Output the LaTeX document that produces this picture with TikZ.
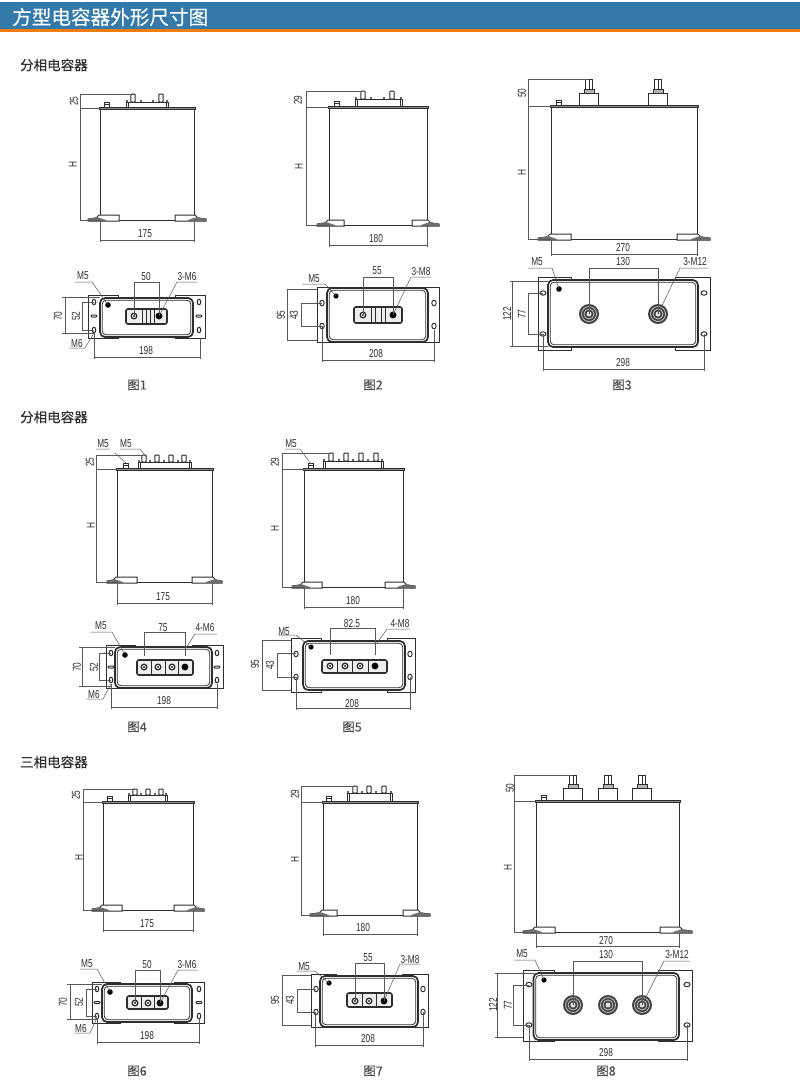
\documentclass[tikz,border=0pt]{standalone}
\usepackage{fontspec}
\newfontfamily\cjkfont[FakeBold=0.25]{Noto Sans CJK SC}
\newfontfamily\dimfont{Liberation Sans}
\definecolor{headblue}{HTML}{337AAB}
\definecolor{headorange}{HTML}{F07D14}
\definecolor{ink}{HTML}{2E2E2E}
\tikzset{x=1pt, y=-1pt,
shell/.style={draw=ink, line width=1pt}, % outlines of the capacitor
tank/.style={draw=ink, line width=1.7pt, fill=white, rounded corners=5pt},
dimline/.style={draw=ink!80, line width=.5pt}, % dimension lines and leaders
dimlabel/.style={font=\dimfont\fontsize{11.5}{11.5}\selectfont, text=ink, inner sep=0pt},
capt/.style={font=\cjkfont\fontsize{12.5}{13}\selectfont, text=ink!85, inner sep=0pt},
section/.style={font=\cjkfont\fontsize{13.5}{14}\selectfont, text=ink, inner sep=0pt, anchor=west}}
% labels: name, x, y, text
\newcommand{\nm}[4]{\node[dimlabel] (#1) at (#2,#3) {\scalebox{.72}[1]{#4}};}
\newcommand{\nmv}[4]{\node[dimlabel, rotate=90] (#1) at (#2,#3) {\scalebox{.72}[1]{#4}};}
% side view: left, right, top, bottom, foot outside, foot inside
\newcommand{\frontview}[6]{
\draw[shell, fill=white] (#1,#3) rectangle (#2,#4);
\draw[shell, fill=ink!55] (#1-1,#3-1) rectangle (#2+1,#3+1);
\draw[shell, fill=white] (#1-#5,#4+1) -- (#1-#5,#4-1) -- (#1-4,#4-2) -- (#1-1,#4-5) -- (#1+#6,#4-5) -- (#1+#6,#4+1) -- cycle;
\draw[shell, fill=white] (#2+#5,#4+1) -- (#2+#5,#4-1) -- (#2+4,#4-2) -- (#2+1,#4-5) -- (#2-#6,#4-5) -- (#2-#6,#4+1) -- cycle;
\fill[ink!70] (#1-#5,#4+1) -- (#1-#5,#4-1) -- (#1-3,#4-3) -- (#1+6,#4) -- (#1+6,#4+1) -- cycle;
\fill[ink!70] (#2+#5,#4+1) -- (#2+#5,#4-1) -- (#2+3,#4-3) -- (#2-6,#4) -- (#2-6,#4+1) -- cycle;
}
% earth stud on the lid: x, top
\newcommand{\lidstud}[2]{
\draw[shell, fill=white] (#1-2.5,#2-6) rectangle (#1+2.5,#2-1);
\draw[shell, line width=.5pt] (#1-2.5,#2-4) -- (#1+2.5,#2-4);
}
% small terminals: left, right, top, plate height, posts, pins, post top
\newcommand{\smallterm}[7]{
\draw[shell] (#1+2,#3-#4) -- (#2-2,#3-#4);
\draw[shell, fill=white] (#1,#3-#4) rectangle (#1+2,#3-1);
\draw[shell, fill=white] (#2-2,#3-#4) rectangle (#2,#3-1);
\foreach \px in {#5} {\draw[shell, fill=white, rounded corners=.8pt] (\px-2.2,#3-#4) rectangle (\px+2.2,#7);}
\foreach \px in {#6} {\fill[ink] (\px,#3-#4-1) circle (1.2);}
\fill[ink] (#1+1,#3-#4-1) circle (1.2); \fill[ink] (#2-1,#3-#4-1) circle (1.2);
}
% big terminal: x, top, bolt top
\newcommand{\bigterm}[3]{
\draw[shell, fill=white] (#1-9.5,#2-1) rectangle (#1+9.5,#2-13);
\draw[shell, fill=ink!35] (#1-5,#2-13) rectangle (#1+5,#2-17);
\draw[shell, fill=white] (#1-3.5,#2-17) rectangle (#1+3.5,#3);
\draw[shell, line width=.7pt] (#1,#2-17) -- (#1,#3);
}
% plan: bracket left right top bottom, tank left right top bottom, tab length
\newcommand{\planview}[9]{
\draw[shell, fill=white] (#1,#3) rectangle (#5+#9,#4);
\draw[shell, fill=white] (#2,#3) rectangle (#6-#9,#4);
\draw[tank] (#5,#7) rectangle (#6,#8);
\draw[shell, line width=.8pt, rounded corners=4pt] (#5+2.2,#7+2.2) rectangle (#6-2.2,#8-2.2);
}
% mounting holes: x left, x right, y top, y bottom, radius x, radius y
\newcommand{\holes}[6]{
\foreach \hx in {#1,#2} \foreach \hy in {#3,#4} {\draw[shell, fill=white] (\hx,\hy) ellipse (#5 and #6);}
}
% slots between the holes: x left, x right, y
\newcommand{\slots}[3]{
\foreach \hx in {#1,#2} {\draw[shell, fill=white, rounded corners=1pt] (\hx-3,#3-1) rectangle (\hx+3,#3+1);}
}
% terminal block: left, right, top, bottom, bolts, dividers, y, black bolt
\newcommand{\blockview}[8]{
\draw[shell, line width=1.6pt, fill=ink!8, rounded corners=2pt] (#1,#3) rectangle (#2,#4);
\foreach \dx in {#6} {\draw[shell] (\dx,#3) -- (\dx,#4);}
\foreach \bx in {#5} {\draw[shell, line width=1.3pt, fill=white] (\bx,#7) circle (2.8);\fill[ink] (\bx,#7) circle (1.1);}
\fill[black] (#8,#7) circle (3);
}
\newcommand{\bigbolt}[2]{
\fill[ink!90] (#1,#2) circle (10);
\draw[white!75!ink, line width=.7pt] (#1,#2) circle (7.5);
\draw[white!75!ink, line width=.7pt] (#1,#2) circle (5);
\fill[white!85!ink] (#1,#2) circle (2.5);
}
\begin{document}
\begin{tikzpicture}
\useasboundingbox (0,0) rectangle (800,1085);
% header
\fill[headblue] (0,2) rectangle (800,29);
\fill[headorange] (0,29) rectangle (800,32);
\node[font=\cjkfont\fontsize{19.6}{20}\selectfont, text=white, inner sep=0pt, anchor=west] (title) at (12,17) {方型电容器外形尺寸图};
\node[section] (secA) at (20,65) {分相电容器};
\node[section] (secB) at (20,417) {分相电容器};
\node[section] (secC) at (20,762) {三相电容器};

% figure 1
\frontview{100}{194}{108}{220}{12}{19}
\lidstud{107}{108}
\smallterm{126}{168}{108}{6}{133,161}{141,153}{94}
\draw[dimline] (134,94) -- (80,94) -- (80,220) -- (100,220) (80,108) -- (100,108);
\draw[dimline] (100,221) -- (100,242) (194,221) -- (194,242) (100,240) -- (194,240);
\nmv{aH}{73}{165}{H} \nmv{aTop}{74}{101}{25} \nm{aW}{145}{234}{175}
\planview{88}{205}{295}{338}{100}{193}{298}{337}{18}
\holes{94}{199}{302}{330}{1.8}{2.8}
\slots{94}{199}{316}
\blockview{126}{167}{309}{324}{134,159}{142,146,150,154}{316}{159}
\fill[black] (108,305) circle (2.8);
\draw[dimline] (134,316) -- (134,282) -- (159,282) -- (159,316);
\draw[dimline] (177,282) -- (197,282) (177,282) -- (159,316);
\draw[dimline] (75,282) -- (92,282) -- (108,305);
\draw[dimline] (69,348) -- (85,348) -- (94,333);
\draw[dimline] (65,297) -- (65,333) (62,297) -- (100,297) (62,333) -- (94,333);
\draw[dimline] (94,302) -- (82,302) -- (82,330) -- (94,330);
\draw[dimline] (94,333) -- (94,359) (200,338) -- (200,359) (94,357) -- (200,357);
\nm{aM}{83}{276}{M5} \nm{aS}{146}{277}{50} \nm{aT}{187}{277}{3-M6} \nm{aB}{77}{344}{M6}
\nmv{aH2}{58}{316}{70} \nmv{aH3}{76}{316}{52} \nm{aW2}{146}{351}{198}
\node[capt] (capA) at (137,385) {图1};

% figure 2
\frontview{329}{427}{107}{225}{12}{15}
\lidstud{337}{107}
\smallterm{355}{402}{107}{8}{363,392}{371,384}{91}
\draw[dimline] (363,91) -- (306,91) -- (306,225) -- (329,225) (306,107) -- (329,107);
\draw[dimline] (329,226) -- (329,247) (427,226) -- (427,247) (329,245) -- (427,245);
\nmv{bH}{299}{167}{H} \nmv{bTop}{298}{100}{29} \nm{bW}{376}{239}{180}
\planview{317}{439}{287}{342}{327}{428}{288}{342}{18}
\holes{322}{434}{303}{326}{2.2}{2.8}
\blockview{354}{402}{307}{323}{363,393}{371,375,381,385}{315}{393}
\fill[black] (336,296) circle (2.6);
\draw[dimline] (363,315) -- (363,277) -- (393,277) -- (393,315);
\draw[dimline] (411,277) -- (431,277) (411,277) -- (393,315);
\draw[dimline] (302,284) -- (325,284) -- (336,296);
\draw[dimline] (317,289) -- (287,289) -- (287,340) -- (317,340);
\draw[dimline] (322,303) -- (301,303) -- (301,326) -- (322,326);
\draw[dimline] (322,326) -- (322,362) (434,330) -- (434,362) (322,360) -- (434,360);
\nm{bM}{314}{279}{M5} \nm{bS}{377}{271}{55} \nm{bT}{421}{272}{3-M8}
\nmv{bH2}{281}{315}{95} \nmv{bH3}{294}{315}{43} \nm{bW2}{376}{354}{208}
\node[capt] (capB) at (373,385) {图2};

% figure 3
\frontview{551}{697}{106}{239}{13}{20}
\lidstud{559}{106}
\bigterm{589}{106}{79}
\bigterm{658}{106}{79}
\draw[dimline] (589,79) -- (528,79) -- (528,239) -- (551,239) (528,106) -- (551,106);
\draw[dimline] (551,240) -- (551,256) (697,240) -- (697,256) (551,254) -- (697,254);
\nmv{cH}{522}{173}{H} \nmv{cTop}{522}{93}{50} \nm{cW}{623}{248}{270}
\planview{538}{710}{277}{350}{548}{698}{280}{347}{23}
\holes{543}{704}{293}{334}{3}{2.2}
\bigbolt{589}{314}
\bigbolt{658}{314}
\fill[black] (559,289) circle (2.8);
\draw[dimline] (589,314) -- (589,268) -- (658,268) -- (658,314);
\draw[dimline] (680,268) -- (708,268) (680,268) -- (658,314);
\draw[dimline] (528,268) -- (552,268) -- (559,289);
\draw[dimline] (512,281) -- (512,346) (510,281) -- (548,281) (510,346) -- (548,346);
\draw[dimline] (543,293) -- (528,293) -- (528,334) -- (543,334);
\draw[dimline] (543,334) -- (543,371) (704,334) -- (704,371) (543,369) -- (704,369);
\nm{cM}{537}{262}{M5} \nm{cS}{623}{262}{130} \nm{cT}{695}{262}{3-M12}
\nmv{cH2}{507}{314}{122} \nmv{cH3}{522}{314}{77} \nm{cW2}{623}{363}{298}
\node[capt] (capC) at (622,385) {图3};

% figure 4
\frontview{117}{212}{469}{582}{10}{20}
\lidstud{126}{469}
\smallterm{138}{191}{469}{7}{157,171,184,144}{150,164,178}{455}
\draw[dimline] (143,455) -- (96,455) -- (96,582) -- (117,582) (96,469) -- (117,469);
\draw[dimline] (117,583) -- (117,605) (212,583) -- (212,605) (117,603) -- (212,603);
\draw[dimline] (96,449) -- (110,449) (115,453) -- (126,463);
\draw[dimline] (120,449) -- (140,449) -- (147,458);
\nmv{dH}{91}{526}{H} \nmv{dTop}{90}{462}{25} \nm{dW}{163}{597}{175}
\nm{dMa}{103}{444}{M5} \nm{dMb}{126}{444}{M5}
\planview{106}{223}{645}{688}{115}{212}{647}{688}{20}
\holes{111}{217}{653}{680}{1.8}{2.8}
\slots{111}{217}{667}
\blockview{137}{193}{660}{675}{144,158,172,185}{151,165,178}{667}{185}
\fill[black] (125,655) circle (2.8);
\draw[dimline] (144,656) -- (144,632) -- (185,632) -- (185,656);
\draw[dimline] (195,634) -- (217,634) (195,634) -- (186,648);
\draw[dimline] (90,632) -- (112,632) -- (125,655);
\draw[dimline] (86,699) -- (103,699) -- (111,684);
\draw[dimline] (82,647) -- (82,686) (79,647) -- (115,647) (79,686) -- (111,686);
\draw[dimline] (111,653) -- (99,653) -- (99,680) -- (111,680);
\draw[dimline] (111,684) -- (111,709) (217,684) -- (217,709) (111,707) -- (217,707);
\nm{dM}{101}{626}{M5} \nm{dS}{163}{628}{75} \nm{dT}{205}{628}{4-M6} \nm{dB}{94}{695}{M6}
\nmv{dH2}{77}{667}{70} \nmv{dH3}{94}{667}{52} \nm{dW2}{164}{701}{198}
\node[capt] (capD) at (137,727) {图4};

% figure 5
\frontview{304}{403}{469}{587}{12}{18}
\lidstud{311}{469}
\smallterm{323}{383}{469}{8}{331,346,361,376}{339,353,368}{453}
\draw[dimline] (331,453) -- (282,453) -- (282,587) -- (304,587) (282,469) -- (304,469);
\draw[dimline] (304,588) -- (304,609) (403,588) -- (403,609) (304,607) -- (403,607);
\draw[dimline] (285,449) -- (300,449) -- (311,464);
\nmv{eH}{275}{529}{H} \nmv{eTop}{275}{462}{29} \nm{eW}{353}{601}{180}
\nm{eMa}{291}{444}{M5}
\planview{291}{415}{638}{692}{303}{405}{641}{690}{18}
\holes{296}{410}{654}{677}{2.2}{2.8}
\blockview{322}{387}{660}{673}{330,345,360,375}{337,352,368}{666}{375}
\fill[black] (311,647) circle (2.6);
\draw[dimline] (330,655) -- (330,628) -- (375,628) -- (375,655);
\draw[dimline] (387,629) -- (410,629) (387,629) -- (377,643);
\draw[dimline] (278,635) -- (296,635) -- (311,647);
\draw[dimline] (291,640) -- (262,640) -- (262,690) -- (291,690);
\draw[dimline] (296,653) -- (277,653) -- (277,677) -- (296,677);
\draw[dimline] (296,677) -- (296,710) (410,677) -- (410,710) (296,708) -- (410,708);
\nm{eM}{284}{632}{M5} \nm{eS}{352}{624}{82.5} \nm{eT}{400}{624}{4-M8}
\nmv{eH2}{255}{664}{95} \nmv{eH3}{270}{665}{43} \nm{eW2}{352}{704}{208}
\node[capt] (capE) at (352,727) {图5};

% figure 6
\frontview{103}{193}{802}{910}{11}{19}
\lidstud{110}{802}
\smallterm{128}{167}{802}{7}{135,148,161}{141,155}{789}
\draw[dimline] (135,789) -- (83,789) -- (83,910) -- (103,910) (83,802) -- (103,802);
\draw[dimline] (103,911) -- (103,932) (193,911) -- (193,932) (103,930) -- (193,930);
\nmv{fH}{79}{857}{H} \nmv{fTop}{76}{795}{25} \nm{fW}{147}{924}{175}
\planview{92}{204}{982}{1023}{102}{192}{984}{1022}{18}
\holes{97}{199}{989}{1016}{1.8}{2.8}
\slots{97}{199}{1002.5}
\blockview{127}{168}{996}{1009}{135,148,160}{141,154}{1003}{160}
\fill[black] (110,992) circle (2.8);
\draw[dimline] (135,1003) -- (135,970) -- (160,970) -- (160,1003);
\draw[dimline] (178,970) -- (198,970) (178,970) -- (160,1003);
\draw[dimline] (80,969) -- (97,969) -- (110,992);
\draw[dimline] (74,1033) -- (90,1033) -- (97,1018);
\draw[dimline] (70,984) -- (70,1019) (67,984) -- (102,984) (67,1019) -- (97,1019);
\draw[dimline] (97,989) -- (86,989) -- (86,1016) -- (97,1016);
\draw[dimline] (97,1018) -- (97,1044) (199,1018) -- (199,1044) (97,1042) -- (199,1042);
\nm{fM}{87}{964}{M5} \nm{fS}{147}{965}{50} \nm{fT}{187}{965}{3-M6} \nm{fB}{81}{1029}{M6}
\nmv{fH2}{63}{1002}{70} \nmv{fH3}{79}{1002}{52} \nm{fW2}{147}{1036}{198}
\node[capt] (capF) at (137,1071) {图6};

% figure 7
\frontview{323}{417}{802}{915}{13}{14}
\lidstud{329}{802}
\smallterm{347}{392}{802}{9}{355,369,384}{362,376}{786}
\draw[dimline] (355,786) -- (301,786) -- (301,915) -- (323,915) (301,802) -- (323,802);
\draw[dimline] (323,916) -- (323,936) (417,916) -- (417,936) (323,934) -- (417,934);
\nmv{gH}{295}{859}{H} \nmv{gTop}{295}{794}{29} \nm{gW}{363}{928}{180}
\planview{311}{428}{974}{1027}{320}{418}{976}{1027}{16}
\holes{316}{423}{989}{1012}{2.2}{2.8}
\blockview{347}{392}{993}{1007}{355,369,384}{362,376}{1001}{384}
\fill[black] (329,983) circle (2.6);
\draw[dimline] (355,1001) -- (355,963) -- (384,963) -- (384,1001);
\draw[dimline] (400,964) -- (420,964) (400,964) -- (384,1001);
\draw[dimline] (297,971) -- (315,971) -- (329,983);
\draw[dimline] (311,975) -- (282,975) -- (282,1025) -- (311,1025);
\draw[dimline] (316,989) -- (297,989) -- (297,1012) -- (316,1012);
\draw[dimline] (315,1012) -- (315,1047) (423,1012) -- (423,1047) (315,1045) -- (423,1045);
\nm{gM}{304}{967}{M5} \nm{gS}{368}{958}{55} \nm{gT}{410}{960}{3-M8}
\nmv{gH2}{275}{1000}{95} \nmv{gH3}{290}{1000}{43} \nm{gW2}{368}{1039}{208}
\node[capt] (capG) at (373,1071) {图7};

% figure 8
\frontview{536}{679}{801}{932}{13}{19}
\lidstud{544}{801}
\bigterm{573}{801}{775}
\bigterm{608}{801}{775}
\bigterm{642}{801}{775}
\draw[dimline] (573,775) -- (514,775) -- (514,932) -- (536,932) (514,801) -- (536,801);
\draw[dimline] (536,933) -- (536,948) (679,933) -- (679,948) (536,946) -- (679,946);
\nmv{hH}{508}{867}{H} \nmv{hTop}{510}{788}{50} \nm{hW}{606}{941}{270}
\planview{523}{692}{970}{1041}{533.5}{679}{973}{1040}{21}
\holes{529}{687}{984.5}{1025}{3}{2.2}
\bigbolt{573}{1005}
\bigbolt{608}{1005}
\bigbolt{642}{1005}
\fill[black] (544,980) circle (2.6);
\draw[dimline] (573,1005) -- (573,961) -- (642,961) -- (642,1005);
\draw[dimline] (664,961) -- (690,961) (664,961) -- (642,1005);
\draw[dimline] (514,960) -- (535,960) -- (544,980);
\draw[dimline] (497.5,973) -- (497.5,1037) (495,973) -- (534,973) (495,1037) -- (523,1037);
\draw[dimline] (529,985) -- (513,985) -- (513,1025) -- (529,1025);
\draw[dimline] (529,1025) -- (529,1061) (687,1025) -- (687,1061) (529,1059) -- (687,1059);
\nm{hM}{522}{954}{M5} \nm{hS}{606}{955}{130} \nm{hT}{677}{955}{3-M12}
\nmv{hH2}{493}{1005}{122} \nmv{hH3}{508}{1005}{77} \nm{hW2}{606}{1053}{298}
\node[capt] (capH) at (606,1071) {图8};
\end{tikzpicture}
\end{document}
